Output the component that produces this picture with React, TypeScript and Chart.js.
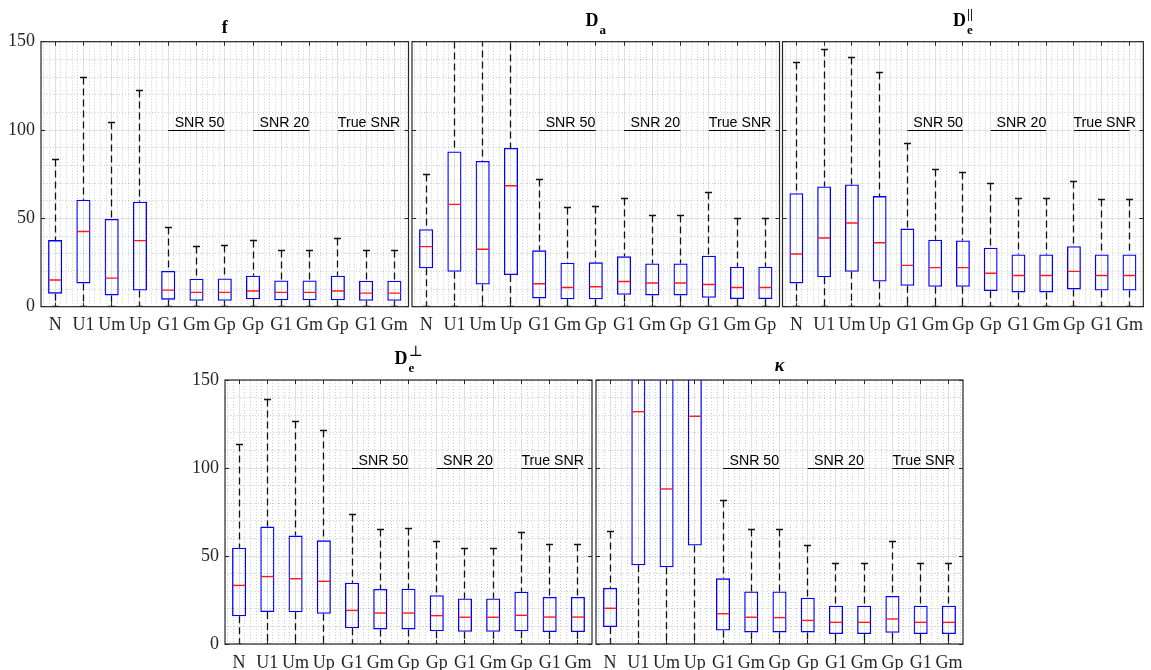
import React, { useEffect, useRef } from 'react';
import { Chart, registerables } from 'chart.js';
Chart.register(...registerables);

// ---------- categories / ticks ----------
const labelsA = ['N', 'U1', 'Um', 'Up', 'G1', 'Gm', 'Gp', 'Gp', 'G1', 'Gm', 'Gp', 'G1', 'Gm'];
const labelsB = ['N', 'U1', 'Um', 'Up', 'G1', 'Gm', 'Gp', 'G1', 'Gm', 'Gp', 'G1', 'Gm', 'Gp'];
const yTicks = [0, 50, 100, 150];
const groupNames = ['SNR 50', 'SNR 20', 'True SNR'];
const groupStart = [4, 7, 10];
const groupEnd = [6, 9, 12];
const groupLevel = 100;

// ---------- f ----------
const fLow = [0, 0, 0, 0, 0, 0, 0, 0, 0, 0, 0, 0, 0];
const fQ1 = [7.4, 13.2, 6.4, 9.2, 4.0, 3.4, 3.4, 4.2, 3.6, 3.6, 3.6, 3.4, 3.4];
const fMed = [15.1, 42.6, 16.2, 37.4, 9.4, 8.1, 8.1, 8.9, 8.1, 8.1, 8.9, 7.7, 7.7];
const fQ3 = [37.7, 60.6, 49.6, 59.4, 20.2, 15.8, 16.0, 17.5, 14.9, 14.9, 17.5, 14.7, 14.7];
const fHigh = [83.2, 129.6, 104.3, 122.6, 44.7, 34.2, 34.7, 37.7, 31.9, 31.9, 38.5, 31.9, 31.9];

// ---------- D_a ----------
const daLow = [0, 0, 0, 0, 0, 0, 0, 0, 0, 0, 0, 0, 0];
const daQ1 = [21.7, 19.8, 12.5, 17.9, 4.7, 4.2, 4.2, 6.8, 6.4, 6.4, 5.1, 4.3, 4.3];
const daMed = [34.0, 57.9, 32.5, 68.5, 13.0, 10.9, 11.3, 14.3, 13.4, 13.4, 12.6, 10.9, 10.9];
const daQ3 = [43.8, 87.9, 82.5, 89.8, 31.9, 24.9, 25.1, 28.5, 24.5, 24.5, 28.9, 22.6, 22.6];
const daHigh = [74.9, 175, 170, 180, 71.9, 56.0, 56.6, 61.3, 51.9, 51.9, 64.5, 49.8, 49.8];

// ---------- D_e parallel ----------
const dparLow = [0, 0, 0, 0, 0, 0, 0, 0, 0, 0, 0, 0, 0];
const dparQ1 = [13.2, 16.6, 19.8, 14.2, 11.9, 11.3, 11.3, 8.9, 8.1, 8.1, 9.8, 9.1, 9.1];
const dparMed = [29.8, 38.9, 47.4, 36.2, 23.4, 22.1, 22.1, 18.9, 17.7, 17.7, 20.0, 17.7, 17.7];
const dparQ3 = [64.2, 68.1, 69.2, 62.6, 44.2, 37.9, 37.5, 33.4, 29.6, 29.6, 34.2, 29.6, 29.6];
const dparHigh = [138.3, 145.5, 141.1, 132.3, 92.1, 77.4, 76.2, 70.0, 61.5, 61.5, 70.9, 60.8, 60.8];

// ---------- D_e perpendicular ----------
const dperLow = [0, 0, 0, 0, 0, 0, 0, 0, 0, 0, 0, 0, 0];
const dperQ1 = [15.7, 18.2, 18.0, 17.2, 8.9, 8.3, 8.3, 7.2, 7.0, 7.0, 7.2, 6.8, 6.8];
const dperMed = [33.3, 38.3, 37.1, 35.6, 19.1, 17.6, 17.6, 16.1, 15.2, 15.2, 16.3, 15.3, 15.3];
const dperQ3 = [54.7, 66.7, 61.6, 58.9, 34.8, 31.3, 31.4, 27.7, 25.9, 25.9, 29.7, 26.7, 26.7];
const dperHigh = [113.4, 138.8, 126.7, 121.2, 73.5, 65.2, 65.7, 58.3, 54.2, 54.2, 63.4, 56.4, 56.4];

// ---------- kappa ----------
const kLow = [0, 0, 0, 0, 0, 0, 0, 0, 0, 0, 0, 0, 0];
const kQ1 = [9.7, 44.7, 43.6, 55.9, 7.6, 6.6, 6.6, 6.6, 5.7, 5.7, 6.4, 5.7, 5.7];
const kMed = [20.3, 132.0, 88.1, 129.4, 17.2, 15.2, 15.0, 13.4, 12.3, 12.3, 14.2, 12.3, 12.3];
const kQ3 = [31.8, 220, 210, 230, 37.3, 29.9, 29.9, 26.3, 21.8, 21.8, 27.3, 21.8, 21.8];
const kHigh = [64.2, 400, 380, 420, 81.8, 64.8, 64.8, 55.9, 45.8, 45.8, 58.3, 45.8, 45.8];

type Title = { main: string; sub?: string; sup?: string; italic?: boolean; supFont?: string };
type Panel = {
  labels: string[]; low: number[]; q1: number[]; med: number[]; q3: number[]; high: number[];
  title: Title; L: number; R: number; T: number; B: number; showY: boolean;
};

const panels: Panel[] = [
  { labels: labelsA, low: fLow, q1: fQ1, med: fMed, q3: fQ3, high: fHigh, title: { main: 'f' }, L: 41, R: 408.5, T: 41.7, B: 306.7, showY: true },
  { labels: labelsB, low: daLow, q1: daQ1, med: daMed, q3: daQ3, high: daHigh, title: { main: 'D', sub: 'a' }, L: 412, R: 779.5, T: 41.7, B: 306.7, showY: false },
  { labels: labelsA, low: dparLow, q1: dparQ1, med: dparMed, q3: dparQ3, high: dparHigh, title: { main: 'D', sub: 'e', sup: '||' }, L: 782.5, R: 1150, T: 41.7, B: 306.7, showY: false },
  { labels: labelsA, low: dperLow, q1: dperQ1, med: dperMed, q3: dperQ3, high: dperHigh, title: { main: 'D', sub: 'e', sup: '\u22A5', supFont: '15px "DejaVu Serif"' }, L: 225, R: 592, T: 380, B: 644, showY: true },
  { labels: labelsA, low: kLow, q1: kQ1, med: kMed, q3: kQ3, high: kHigh, title: { main: '\u03BA', italic: true }, L: 596, R: 963, T: 380, B: 644, showY: false },
];

const W = 1151;
const H = 670;
const Y_AXIS_W = 40;
const X_AXIS_H = 30;
const AXIS_COLOR = '#262626';
const SERIF = '"Liberation Serif", "Times New Roman", serif';
const SANS = '"Liberation Sans", Arial, sans-serif';

const crisp = (v: number) => Math.round(v - 0.5) + 0.5;

function makePlugin(p: Panel) {
  return {
    id: 'boxExtras',
    beforeDatasetsDraw(chart: any) {
      const { ctx, chartArea: a, scales } = chart;
      const x = scales.x;
      const y = scales.y;
      const n = p.labels.length;
      ctx.save();
      ctx.beginPath();
      ctx.rect(a.left, a.top, a.right - a.left, a.bottom - a.top);
      ctx.clip();
      ctx.strokeStyle = 'rgba(0,0,0,0.2)';
      ctx.lineWidth = 1;
      ctx.setLineDash([1, 2]);
      // minor vertical grid (every 0.2 category)
      for (let k = -2; k <= 5 * n; k++) {
        if (k % 5 === 0) continue;
        const v = k / 5;
        if (v <= -0.5 || v >= n - 0.5) continue;
        const px = crisp(x.getPixelForValue(v));
        ctx.beginPath();
        ctx.moveTo(px, a.top);
        ctx.lineTo(px, a.bottom);
        ctx.stroke();
      }
      // minor horizontal grid (every 10)
      for (let v = 10; v < 150; v += 10) {
        if (v % 50 === 0) continue;
        const py = crisp(y.getPixelForValue(v));
        ctx.beginPath();
        ctx.moveTo(a.left, py);
        ctx.lineTo(a.right, py);
        ctx.stroke();
      }
      ctx.restore();

      // whiskers and caps
      ctx.save();
      ctx.beginPath();
      ctx.rect(a.left, a.top, a.right - a.left, a.bottom - a.top);
      ctx.clip();
      const meta = chart.getDatasetMeta(0);
      for (let i = 0; i < n; i++) {
        const bar = meta.data[i];
        const cx = crisp(x.getPixelForValue(i));
        const bw = bar.width;
        const yQ1 = y.getPixelForValue(p.q1[i]);
        const yQ3 = y.getPixelForValue(p.q3[i]);
        const yHi = crisp(y.getPixelForValue(p.high[i]));
        const yLo = crisp(y.getPixelForValue(p.low[i]));
        ctx.strokeStyle = '#111111';
        ctx.lineWidth = 1.3;
        ctx.setLineDash([7, 4]);
        ctx.beginPath();
        ctx.moveTo(cx, yHi);
        ctx.lineTo(cx, yQ3);
        ctx.stroke();
        ctx.beginPath();
        ctx.moveTo(cx, yQ1);
        ctx.lineTo(cx, yLo);
        ctx.stroke();
        ctx.setLineDash([]);
        ctx.lineWidth = 1.3;
        ctx.beginPath();
        ctx.moveTo(cx - bw / 4, yHi);
        ctx.lineTo(cx + bw / 4, yHi);
        ctx.moveTo(cx - bw / 4, yLo);
        ctx.lineTo(cx + bw / 4, yLo);
        ctx.stroke();
      }
      ctx.restore();
    },
    afterDatasetsDraw(chart: any) {
      const { ctx, chartArea: a, scales } = chart;
      const x = scales.x;
      const y = scales.y;
      const n = p.labels.length;
      const meta = chart.getDatasetMeta(0);
      ctx.save();
      ctx.beginPath();
      ctx.rect(a.left, a.top, a.right - a.left, a.bottom - a.top);
      ctx.clip();
      // medians
      ctx.strokeStyle = '#ff1a1a';
      ctx.lineWidth = 1.4;
      for (let i = 0; i < n; i++) {
        const bar = meta.data[i];
        const cx = x.getPixelForValue(i);
        const bw = bar.width;
        const ym = y.getPixelForValue(p.med[i]);
        ctx.beginPath();
        ctx.moveTo(cx - bw / 2 + 0.8, ym);
        ctx.lineTo(cx + bw / 2 - 0.8, ym);
        ctx.stroke();
      }
      ctx.restore();

      // group annotations
      ctx.save();
      const yl = crisp(y.getPixelForValue(groupLevel));
      ctx.strokeStyle = '#000000';
      ctx.fillStyle = '#000000';
      ctx.lineWidth = 1.2;
      ctx.font = `14.2px ${SANS}`;
      ctx.textAlign = 'center';
      ctx.textBaseline = 'alphabetic';
      for (let g = 0; g < groupNames.length; g++) {
        const x1 = x.getPixelForValue(groupStart[g]);
        const x2 = x.getPixelForValue(groupEnd[g]);
        ctx.beginPath();
        ctx.moveTo(x1, yl);
        ctx.lineTo(x2, yl);
        ctx.stroke();
        ctx.fillText(groupNames[g], (x1 + x2) / 2 + 3, yl - 3.5);
      }
      ctx.restore();

      // frame and inward ticks
      ctx.save();
      ctx.strokeStyle = AXIS_COLOR;
      ctx.lineWidth = 1.2;
      ctx.strokeRect(a.left, a.top, a.right - a.left, a.bottom - a.top);
      const tl = 4;
      ctx.lineWidth = 1;
      ctx.beginPath();
      for (let i = 0; i < n; i++) {
        const cx = crisp(x.getPixelForValue(i));
        ctx.moveTo(cx, a.top);
        ctx.lineTo(cx, a.top + tl);
        ctx.moveTo(cx, a.bottom);
        ctx.lineTo(cx, a.bottom - tl);
      }
      for (const v of yTicks) {
        const py = crisp(y.getPixelForValue(v));
        ctx.moveTo(a.left, py);
        ctx.lineTo(a.left + tl, py);
        ctx.moveTo(a.right, py);
        ctx.lineTo(a.right - tl, py);
      }
      ctx.stroke();
      ctx.restore();

      // title
      ctx.save();
      const t = p.title;
      const cxT = (a.left + a.right) / 2;
      ctx.fillStyle = '#000000';
      ctx.textAlign = 'left';
      ctx.textBaseline = 'alphabetic';
      const mainFont = `${t.italic ? 'italic ' : ''}bold 18px ${SERIF}`;
      const subFont = `bold 13px ${SERIF}`;
      const supFont = t.supFont ? t.supFont : `bold 13px ${SERIF}`;
      ctx.font = mainFont;
      const wMain = ctx.measureText(t.main).width;
      let wSub = 0;
      let wSup = 0;
      if (t.sub) { ctx.font = subFont; wSub = ctx.measureText(t.sub).width; }
      if (t.sup) { ctx.font = supFont; wSup = ctx.measureText(t.sup).width; }
      const total = wMain + Math.max(wSub, wSup) + (t.sub || t.sup ? 1 : 0);
      const x0 = cxT - total / 2;
      const compound = !!(t.sub || t.sup);
      ctx.font = mainFont;
      ctx.fillText(t.main, x0, a.top - (compound ? 16 : 9));
      if (t.sub) {
        ctx.font = subFont;
        ctx.fillText(t.sub, x0 + wMain + 1, a.top - 8);
      }
      if (t.sup) {
        ctx.font = supFont;
        ctx.fillText(t.sup, x0 + wMain + 1, a.top - 24);
      }
      ctx.restore();
    },
  };
}

function BoxPanel({ p }: { p: Panel }) {
  const ref = useRef<HTMLCanvasElement>(null);
  useEffect(() => {
    if (!ref.current) return;
    const chart = new Chart(ref.current, {
      type: 'bar',
      data: {
        labels: p.labels,
        datasets: [
          {
            data: p.q1.map((q, i) => [q, p.q3[i]]) as any,
            backgroundColor: 'rgba(0,0,0,0)',
            borderColor: '#0000ff',
            borderWidth: 1.3,
            borderSkipped: false,
            barPercentage: 0.5,
            categoryPercentage: 1,
          },
        ],
      },
      options: {
        responsive: false,
        animation: false,
        devicePixelRatio: 1,
        events: [],
        layout: {
          padding: {
            left: p.L - Y_AXIS_W,
            right: W - p.R,
            top: p.T,
            bottom: H - p.B - X_AXIS_H,
          },
        },
        plugins: {
          legend: { display: false },
          tooltip: { enabled: false },
          title: { display: false },
        },
        scales: {
          x: {
            type: 'category',
            offset: true,
            grid: { offset: false, color: '#e0e0e0', lineWidth: 1, drawTicks: false },
            border: { display: false },
            ticks: {
              color: AXIS_COLOR,
              font: { family: SERIF, size: 18 },
              padding: 8,
              maxRotation: 0,
              minRotation: 0,
              autoSkip: false,
            },
            afterFit: (s: any) => { s.height = X_AXIS_H; },
          },
          y: {
            min: 0,
            max: 150,
            grid: { color: '#e0e0e0', lineWidth: 1, drawTicks: false },
            border: { display: false },
            ticks: {
              display: p.showY,
              stepSize: 50,
              color: AXIS_COLOR,
              font: { family: SERIF, size: 18 },
              padding: 6,
            },
            afterFit: (s: any) => { s.width = Y_AXIS_W; },
          },
        },
      },
      plugins: [makePlugin(p)],
    });
    return () => chart.destroy();
  }, [p]);
  return (
    <canvas
      ref={ref}
      width={W}
      height={H}
      style={{ position: 'absolute', left: 0, top: 0, width: W, height: H }}
    />
  );
}

export default function App() {
  return (
    <div style={{ position: 'absolute', left: 0, top: 0, width: W, height: H, background: '#ffffff', overflow: 'hidden' }}>
      {panels.map((p, i) => (
        <BoxPanel key={i} p={p} />
      ))}
    </div>
  );
}
